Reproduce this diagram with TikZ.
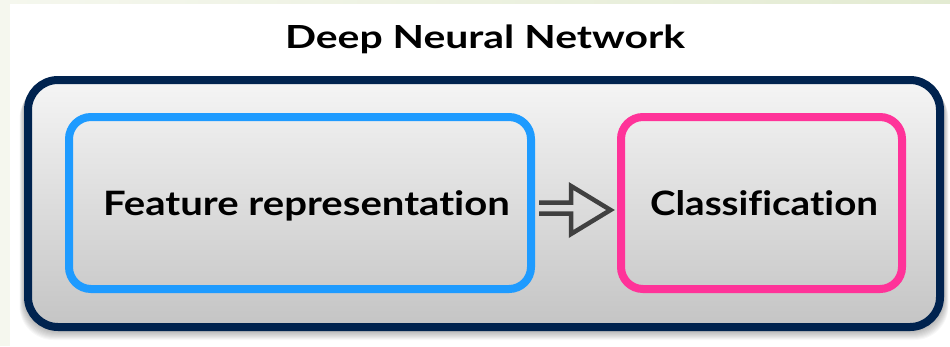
\documentclass[tikz,border=0pt]{standalone}
\usepackage{fontspec}
\setmainfont{Lato}[Ligatures=NoCommon]
\usepackage{graphicx}
\usetikzlibrary{calc}
\definecolor{navy}{HTML}{00234F}
\definecolor{featblue}{HTML}{1E9BFF}
\definecolor{classpink}{HTML}{FF3399}
\definecolor{arrowgray}{HTML}{404040}
\definecolor{paper}{HTML}{F5F7EE}
\definecolor{paperedge}{HTML}{E3EBD2}
% set bold text to a given width and cap height
\newcommand\fitcap[3]{%
  \sbox0{\bfseries #3}\sbox2{\bfseries F}%
  \pgfmathsetmacro\capsx{#1/\the\wd0}%
  \pgfmathsetmacro\capsy{#2/\the\ht2}%
  \scalebox{\capsx}[\capsy]{\usebox0}}
\tikzset{
  framebox/.style={draw=navy, line width=8pt, rounded corners=30pt,
    top color=black!4, bottom color=black!23, inner sep=0pt},
  stagebox/.style={line width=8pt, rounded corners=22pt, inner sep=0pt,
    minimum height=172pt},
  caption/.style={anchor=base, inner sep=0pt},
  hollowarrow/.style={draw=arrowgray, line width=4.5pt, line join=miter}
}
\begin{document}
\begin{tikzpicture}[x=1pt, y=-1pt]
\useasboundingbox (0,0) rectangle (950,346);
% page background
\fill[paper] (0,0) rectangle (950,346);
\shade[left color=paper, right color=paperedge] (0,0) rectangle (950,4);
\fill[white] (10,4) rectangle (950,346);
% soft shadow beneath the frame
\foreach \k in {1,...,9}
  \fill[black, opacity=0.03, rounded corners=34pt]
    (24-\k/2, 76+\k) rectangle (944+\k/2, 331+\k);
% title
\node[caption] (title) at (485,48) {\fitcap{400}{23}{Deep Neural Network}};
% outer frame
\node[framebox, minimum width=912pt, minimum height=247pt] (dnn) at (484,203.5) {};
% the two stages
\node[stagebox, draw=featblue, minimum width=462pt] (feat) at (300,203) {};
\node[stagebox, draw=classpink, minimum width=281pt] (cls) at (761.5,203) {};
\node[caption] (feattext) at (306.5,215) {\fitcap{407}{24.3}{Feature representation}};
\node[caption] (clstext) at (764,215) {\fitcap{228}{24.3}{Classification}};
% hollow block arrow between the stages
\coordinate (tip) at ($(cls.west)+(-6.5,7)$);
\draw[hollowarrow] ($(feat.east)+(4,-0.5)$) -- ($(tip)+(-39.5,-7.5)$)
  -- ($(tip)+(-39.5,-24)$) -- (tip) -- ($(tip)+(-39.5,24)$)
  -- ($(tip)+(-39.5,3.5)$) -- ($(feat.east)+(4,10.5)$);
\end{tikzpicture}
\end{document}
